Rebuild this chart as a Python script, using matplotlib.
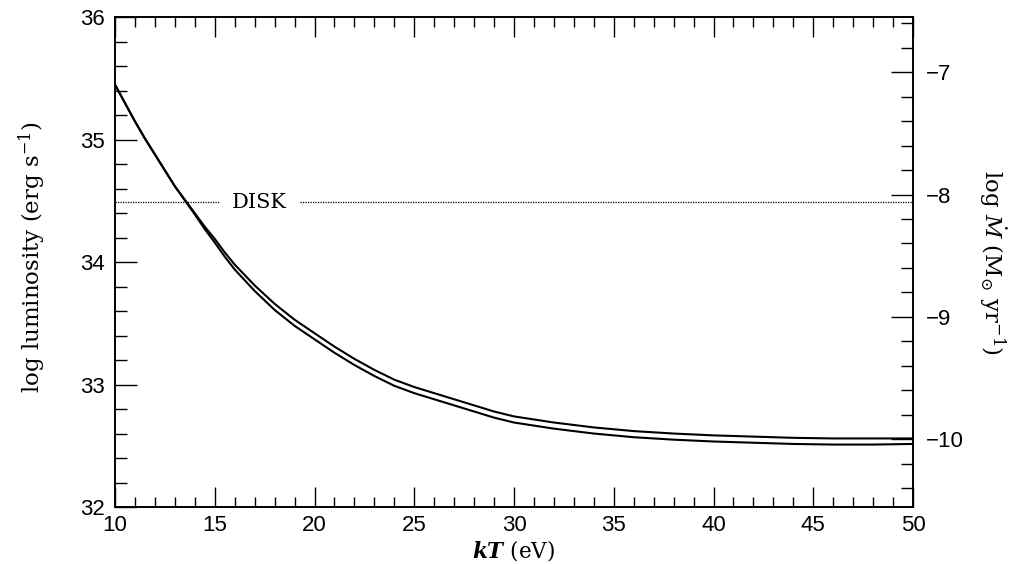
import matplotlib
matplotlib.use("Agg")
import matplotlib.pyplot as plt
from matplotlib.ticker import MultipleLocator

plt.rcParams["mathtext.fontset"] = "dejavuserif"

# ---- data ----
kT = [10.0, 10.5, 11.0, 11.5, 12.0, 12.5, 13.0, 13.5, 14.0, 14.5, 15.0, 15.5, 16.0,
      17.0, 18.0, 19.0, 20.0, 21.0, 22.0, 23.0, 24.0, 25.0, 26.0, 27.0, 28.0, 29.0,
      30.0, 32.0, 34.0, 36.0, 38.0, 40.0, 42.0, 44.0, 46.0, 48.0, 50.0]
logL_upper = [35.45, 35.30, 35.15, 35.01, 34.88, 34.75, 34.62, 34.51, 34.40, 34.29,
              34.19, 34.08, 33.98, 33.81, 33.66, 33.53, 33.42, 33.31, 33.21, 33.12,
              33.04, 32.98, 32.93, 32.88, 32.83, 32.78, 32.74, 32.69, 32.65, 32.62,
              32.60, 32.585, 32.575, 32.565, 32.56, 32.56, 32.56]
logL_lower = [35.45, 35.30, 35.15, 35.01, 34.88, 34.75, 34.62, 34.505, 34.39, 34.27,
              34.16, 34.045, 33.94, 33.765, 33.61, 33.48, 33.37, 33.26, 33.16, 33.07,
              32.99, 32.93, 32.88, 32.83, 32.78, 32.73, 32.69, 32.64, 32.60, 32.57,
              32.55, 32.535, 32.525, 32.515, 32.51, 32.51, 32.515]
disk_level = 34.49
disk_label = "DISK"
disk_label_x = 17.25
mdot_offset = 42.553   # log Mdot = log L - offset

xlim = (10, 50)
ylim = (32, 36)

fig = plt.figure(figsize=(10.29, 5.64), dpi=100)
ax = fig.add_axes([0.1118, 0.1011, 0.7755, 0.868])

ax.plot(kT, logL_upper, color="black", lw=1.5)
ax.plot(kT, logL_lower, color="black", lw=1.5)
ax.axhline(disk_level, color="black", lw=0.9, linestyle=(0, (1, 1)))
ax.text(disk_label_x, disk_level, disk_label, ha="center", va="center",
        fontsize=15, family="DejaVu Serif",
        bbox=dict(facecolor="white", edgecolor="none", pad=9))

ax.set_xlim(*xlim)
ax.set_ylim(*ylim)

tickfont = "Liberation Sans"
tsize = 16
ax.xaxis.set_major_locator(MultipleLocator(5))
ax.xaxis.set_minor_locator(MultipleLocator(1))
ax.yaxis.set_major_locator(MultipleLocator(1))
ax.yaxis.set_minor_locator(MultipleLocator(0.2))
ax.tick_params(axis="x", which="both", direction="in", top=True, bottom=True)
ax.tick_params(axis="y", which="both", direction="in", left=True, right=False)
ax.tick_params(axis="x", which="major", length=14.5, width=1.0, pad=6, labelsize=tsize)
ax.tick_params(axis="x", which="minor", length=7.2, width=1.0)
ax.tick_params(axis="y", which="major", length=15.8, width=1.0, pad=7, labelsize=tsize)
ax.tick_params(axis="y", which="minor", length=8.6, width=1.0)
for lab in ax.get_xticklabels() + ax.get_yticklabels():
    lab.set_family(tickfont)
for s in ax.spines.values():
    s.set_linewidth(1.2)

ax2 = ax.twinx()
ax2.set_ylim(ylim[0] - mdot_offset, ylim[1] - mdot_offset)
ax2.yaxis.set_major_locator(MultipleLocator(1))
ax2.yaxis.set_minor_locator(MultipleLocator(0.2))
ax2.tick_params(axis="y", which="both", direction="in")
ax2.tick_params(axis="y", which="major", length=15.8, width=1.0, pad=9, labelsize=tsize)
ax2.tick_params(axis="y", which="minor", length=8.6, width=1.0)
for lab in ax2.get_yticklabels():
    lab.set_family(tickfont)
for s in ax2.spines.values():
    s.set_linewidth(1.2)

labfont = "DejaVu Serif"
ax.set_xlabel(r"$\boldsymbol{kT}$ (eV)", fontsize=15.5, family=labfont, labelpad=0)
ax.xaxis.set_label_coords(0.5, -0.064)
ax.set_ylabel(r"log luminosity (erg s$^{-1}$)", fontsize=16.5, family=labfont)
ax.yaxis.set_label_coords(-0.084, 0.51)
ax2.set_ylabel(r"log $\dot{M}$ (M$_{\odot}$ yr$^{-1}$)", fontsize=16.5, family=labfont,
               rotation=270, va="center")
ax2.yaxis.set_label_coords(1.1, 0.5)

fig.savefig("out.png", dpi=100)
